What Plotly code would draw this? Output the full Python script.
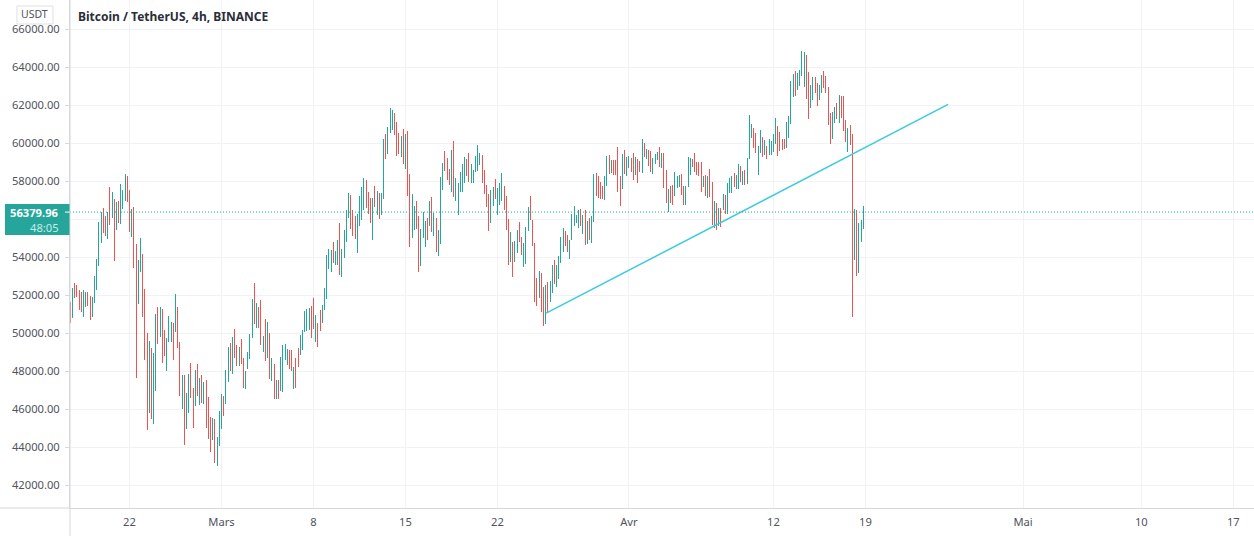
import pandas as pd
import plotly.graph_objects as go

# 4h bars
start_time = "2021-02-17 12:00"

highs = [
    51651, 52388, 52651, 52545, 52282, 52177, 52282, 52177, 52177, 51967,
    51914, 53019, 53914, 55861, 56369, 56597, 56176, 56369, 57702, 57422,
    57071, 56913, 56966, 57860, 57544, 58386, 58281, 57544, 56545, 56650,
    54720, 53861, 55019, 54177, 52335, 50020, 49599, 49230, 48967, 51020,
    51388, 51388, 51283, 50178, 49757, 50914, 50599, 50546, 52072, 51388,
    49546, 47810, 47810, 46863, 47862, 48441, 47126, 48073, 48389, 47652,
    47810, 47441, 47547, 46652, 45600, 45547, 45494, 44547, 45915, 46810,
    46705, 48073, 49283, 49494, 49809, 50230, 49388, 49283, 49704, 48704,
    48020, 49020, 49967, 51809, 52651, 51598, 51388, 51757, 49863, 50757,
    50599, 50021, 48705, 48389, 47547, 47547, 48758, 49389, 49442, 49179,
    49126, 49108, 48231, 48705, 49231, 49915, 50178, 51178, 51283, 51336,
    51441, 51862, 50968, 50547, 51231, 51494, 52388, 54125, 54441, 54388,
    54809, 54335, 54914, 55809, 54441, 55440, 56493, 57387, 57282, 56493,
    56177, 56282, 57229, 57703, 58177, 58071, 57440, 57124, 57124, 57756,
    57493, 57387, 57387, 60229, 60492, 60860, 61860, 61755, 61597, 61123,
    60545, 60387, 60755, 60492, 60650, 58387, 57335, 56703, 56966, 56177,
    55493, 56388, 55914, 56072, 56966, 57177, 56335, 56072, 55440, 58229,
    58966, 59597, 59229, 58650, 59650, 60124, 58177, 57914, 58492, 58913,
    59282, 59176, 59492, 58913, 58598, 59334, 59913, 59492, 59387, 58598,
    57808, 57335, 57545, 57703, 58124, 57650, 57914, 58440, 57756, 57229,
    56019, 55343, 54817, 54869, 55448, 55869, 55080, 54764, 55606, 56658,
    57237, 55974, 54764, 52922, 53291, 53185, 52449, 52554, 52712, 52764,
    53606, 53869, 53606, 54080, 55080, 55553, 55395, 55185, 54922, 56290,
    56711, 56237, 56500, 56553, 56237, 56500, 55922, 56079, 56185, 58395,
    58447, 58289, 57974, 57763, 58289, 59342, 59394, 59131, 59131, 59131,
    59815, 58289, 59447, 59657, 59289, 59342, 59237, 59500, 59289, 59184,
    59079, 60236, 60026, 59710, 59657, 59605, 59237, 59447, 59552, 59815,
    59500, 59500, 58605, 57605, 57763, 57816, 58500, 58289, 58342, 58395,
    57763, 57763, 59289, 59237, 59184, 59500, 59026, 59026, 59026, 58289,
    58342, 58289, 58658, 57974, 56974, 56869, 56606, 56606, 57342, 57290,
    57921, 58184, 58289, 58447, 58342, 58921, 58808, 58545, 58597, 59229,
    61491, 61018, 60807, 60544, 59860, 60702, 60334, 60176, 59860, 60229,
    60123, 60492, 61334, 60913, 60597, 60229, 60229, 61123, 61439, 63281,
    63649, 63807, 63702, 63859, 64859, 64807, 64649, 63754, 63070, 63491,
    63491, 63175, 63070, 63596, 63807, 63544, 62965, 61597, 61649, 61912,
    62123, 62544, 62491, 62491, 61228, 60807, 60965, 60492, 56545, 56493,
    55809, 55966, 56703,
]

lows = [
    50511, 50774, 51879, 51932, 51230, 51090, 50879, 51405, 51458, 50669,
    50879, 51616, 52300, 53563, 54773, 55299, 55141, 54984, 55720, 56089,
    53826, 55457, 55825, 55773, 56545, 56966, 56913, 55352, 55089, 53458,
    47617, 51563, 53247, 50879, 48564, 44881, 45775, 45459, 45196, 46933,
    49406, 49774, 48406, 48774, 47985, 49511, 49511, 48564, 50037, 49195,
    46670, 45986, 44091, 44933, 45775, 46564, 44986, 46161, 46670, 46196,
    46301, 46249, 44986, 44407, 43723, 44354, 43144, 42986, 44039, 44933,
    45617, 46249, 47406, 47985, 47827, 48669, 48248, 48248, 48353, 47091,
    47038, 48090, 48617, 49722, 50458, 50248, 50248, 49354, 48986, 48512,
    48670, 47565, 47460, 46513, 46513, 46513, 46933, 46881, 48565, 48302,
    48091, 47986, 47039, 47091, 48196, 48828, 49091, 50038, 50091, 50143,
    49722, 50196, 49512, 49249, 50091, 50512, 51196, 51775, 53406, 53248,
    53686, 53616, 53599, 53090, 52985, 53985, 54826, 56072, 55493, 55142,
    54967, 54248, 55651, 55967, 56493, 56598, 56282, 55826, 54932, 56651,
    56230, 56037, 56230, 57089, 59176, 59440, 60545, 60702, 60439, 59352,
    59440, 59282, 58913, 58650, 57229, 54563, 55019, 55440, 55493, 53248,
    53564, 55019, 54546, 54914, 55651, 55335, 55125, 54283, 54090, 54704,
    57545, 58545, 58071, 57808, 57440, 57177, 56966, 56230, 57440, 57440,
    57914, 58282, 57966, 57914, 57914, 58492, 58545, 58861, 57914, 57335,
    56651, 55405, 55826, 56703, 57072, 56230, 56756, 56966, 56493, 55440,
    53599, 53764, 52975, 53764, 54238, 54817, 54132, 53501, 53659, 55395,
    55974, 54606, 51659, 51449, 51870, 51133, 50396, 50502, 51081, 51659,
    52133, 52607, 52449, 52870, 53712, 54290, 54606, 54290, 53922, 54922,
    55658, 55816, 55553, 55658, 55237, 54659, 54710, 54922, 54764, 55869,
    57237, 57132, 57079, 57044, 57026, 57763, 58395, 58447, 58342, 58342,
    57447, 56711, 57605, 58395, 58289, 58710, 58500, 58079, 58342, 57921,
    58500, 58447, 59289, 59184, 58816, 58500, 58395, 58921, 59131, 58763,
    58710, 57658, 56869, 56360, 56858, 56763, 57237, 57658, 57711, 57290,
    56763, 56763, 57711, 58342, 58763, 58500, 58342, 58289, 57430, 57711,
    57237, 57132, 57184, 55711, 55553, 55448, 55658, 55606, 56500, 56290,
    56290, 57395, 57395, 57711, 57605, 57605, 57966, 57808, 57808, 57861,
    59176, 60281, 59755, 59492, 58334, 59492, 59281, 59387, 59176, 59387,
    59387, 59545, 59965, 59334, 59597, 59650, 59702, 59755, 60281, 61018,
    62439, 62491, 62807, 63017, 63544, 62965, 62333, 61281, 61860, 62281,
    62649, 61965, 62281, 62649, 62912, 62649, 60965, 59965, 60229, 61071,
    61281, 61071, 61334, 60650, 60071, 59545, 59913, 50862, 53862, 53020,
    53178, 54809, 55493,
]

# G = up bar, R = down bar
sides = list(
    "RGRRRRGGRR" "GGGGGRRGRG" "RGRGGGRRGR" "RGGRRRGRGG" "RGRRGGGRGR"
    "RGRGGRRGRG" "RGRRRGRGGG" "RGGRGRRGRR" "GGGGRGRRGR" "GRGRGRGGGG"
    "RRGRRGGGGG" "RRGRRGGGGG" "RGGRGGGGRR" "RGGGGRRRGR" "GRGGRGGGRR"
    "RGRGRRGGRR" "GGGRGRGRGG" "GRRRGRGGGG" "GRRGGGGGRR" "RRGGRGGGRR"
    "RGRGGRRGGG" "RRRRGRRGRG" "GRGGGGRRGG" "GGGRGRGRGG" "RRRRGGRGRR"
    "RRGRGGRRGR" "RGRGRRGGGR" "GRRGRRGGGR" "RGGGRRRRRG" "RGRRGRGRGR"
    "GGGRGGRGRG" "GGRRGGRGRG" "GGGRRRRGGG" "GRGGGGRRGG" "RRGGRRRRGG"
    "RGRRRGRRGR" "GGG"
)

last_price = 56379.96
countdown = "48:05"

trend_times = ["2021-03-25 17:00", "2021-04-25 07:00"]
trend_prices = [51053, 62053]

price_ticks = [42000, 44000, 46000, 48000, 50000, 52000, 54000, 56000, 58000, 60000, 62000, 64000, 66000]
# 56000 sits behind the last price label
price_labels = ["" if p == 56000 else "%.2f" % p for p in price_ticks]

month_ticks = ["2021-02-22", "2021-03-01", "2021-03-08", "2021-03-15", "2021-03-22", "2021-04-01",
               "2021-04-12", "2021-04-19", "2021-05-01", "2021-05-10", "2021-05-17"]
month_labels = ["22", "Mars", "8", "15", "22", "Avr", "12", "19", "Mai", "10", "17"]

UP = "#26a69a"
DOWN = "#ef5350"
GRID = "#f0f3f6"
AXIS = "#d6d8dd"
TEXT = "#50535e"
FONT = "Noto Sans"

times = pd.date_range(start_time, periods=len(highs), freq="4h")
opens = [l if s == "G" else h for h, l, s in zip(highs, lows, sides)]
closes = [h if s == "G" else l for h, l, s in zip(highs, lows, sides)]

fig = go.Figure()

fig.add_trace(go.Ohlc(
    x=times, open=opens, high=highs, low=lows, close=closes,
    increasing=dict(line=dict(color=UP, width=1)),
    decreasing=dict(line=dict(color=DOWN, width=1)),
    tickwidth=0, showlegend=False, hoverinfo="skip",
))

fig.add_trace(go.Scatter(
    x=trend_times, y=trend_prices, mode="lines",
    line=dict(color="#3ccbdc", width=1.5), showlegend=False, hoverinfo="skip",
))

# last price line and its label on the axis
fig.add_shape(type="line", xref="paper", x0=0, x1=1, yref="y", y0=last_price, y1=last_price,
              line=dict(color=UP, width=1, dash="1px,2px"))
fig.add_shape(type="rect", xref="paper", x0=-0.0549, x1=0, yref="paper", y0=0.5373, y1=0.5983,
              fillcolor=UP, line=dict(width=0), layer="above")
fig.add_shape(type="line", xref="paper", x0=-0.0042, x1=0, yref="y", y0=last_price, y1=last_price,
              line=dict(color="#ffffff", width=1))
fig.add_annotation(text="<b>%.2f</b>" % last_price, xref="paper", x=-0.0075, xanchor="right",
                   yref="y", y=last_price, showarrow=False,
                   font=dict(family=FONT, size=11.2, color="#ffffff"))
fig.add_annotation(text=countdown, xref="paper", x=-0.0075, xanchor="right",
                   yref="paper", y=0.5525, yanchor="middle", showarrow=False,
                   font=dict(family=FONT, size=11.2, color="#c4ece8"))

# currency button and title
fig.add_shape(type="rect", xref="paper", x0=-0.0448, x1=-0.0144, yref="paper", y0=0.9528, y1=0.9882,
              line=dict(color="#dfe0e4", width=1), fillcolor="#ffffff", layer="above")
fig.add_annotation(text="USDT", xref="paper", x=-0.0296, xanchor="center",
                   yref="paper", y=0.9715, yanchor="middle", showarrow=False,
                   font=dict(family=FONT, size=10.5, color=TEXT))
fig.add_annotation(text="<b>Bitcoin / TetherUS, 4h, BINANCE</b>", xref="paper", x=0.0051, xanchor="left",
                   yref="paper", y=0.9685, yanchor="middle", showarrow=False,
                   font=dict(family=FONT, size=12, color="#2a2e39"))

# axis lines run past the corner
fig.add_shape(type="line", xref="paper", x0=-0.0591, x1=0, yref="paper", y0=0, y1=0,
              line=dict(color=AXIS, width=1))
fig.add_shape(type="line", xref="paper", x0=0, x1=0, yref="paper", y0=-0.055, y1=1,
              line=dict(color=AXIS, width=1))

fig.update_layout(
    width=1254, height=536,
    margin=dict(l=70, r=0, t=0, b=28),
    paper_bgcolor="#ffffff", plot_bgcolor="#ffffff",
    font=dict(family=FONT, size=12, color=TEXT),
    showlegend=False,
)
fig.update_xaxes(
    type="date", range=["2021-02-17 11:18", "2021-05-18 13:42"],
    rangeslider=dict(visible=False),
    tickmode="array", tickvals=month_ticks, ticktext=month_labels,
    showgrid=True, gridcolor=GRID, gridwidth=1, zeroline=False,
    showline=True, linecolor=AXIS, ticks="", ticklabelstandoff=4,
    tickfont=dict(size=11.2, color=TEXT),
)
fig.update_yaxes(
    range=[40790, 67553], tickmode="array", tickvals=price_ticks, ticktext=price_labels,
    showgrid=True, gridcolor=GRID, gridwidth=1, zeroline=False,
    showline=True, linecolor=AXIS, ticks="outside", ticklen=4, tickcolor=AXIS,
    ticklabelstandoff=3, tickfont=dict(size=11.2, color=TEXT),
)

# bars stay sharp at 1px, no smearing across pixels
fig.write_html("out.html", config=dict(displayModeBar=False),
               post_script="document.body.style.margin='0';"
                           "document.querySelectorAll('.ohlclayer path').forEach(function(p){"
                           "p.style.shapeRendering='crispEdges';});")
